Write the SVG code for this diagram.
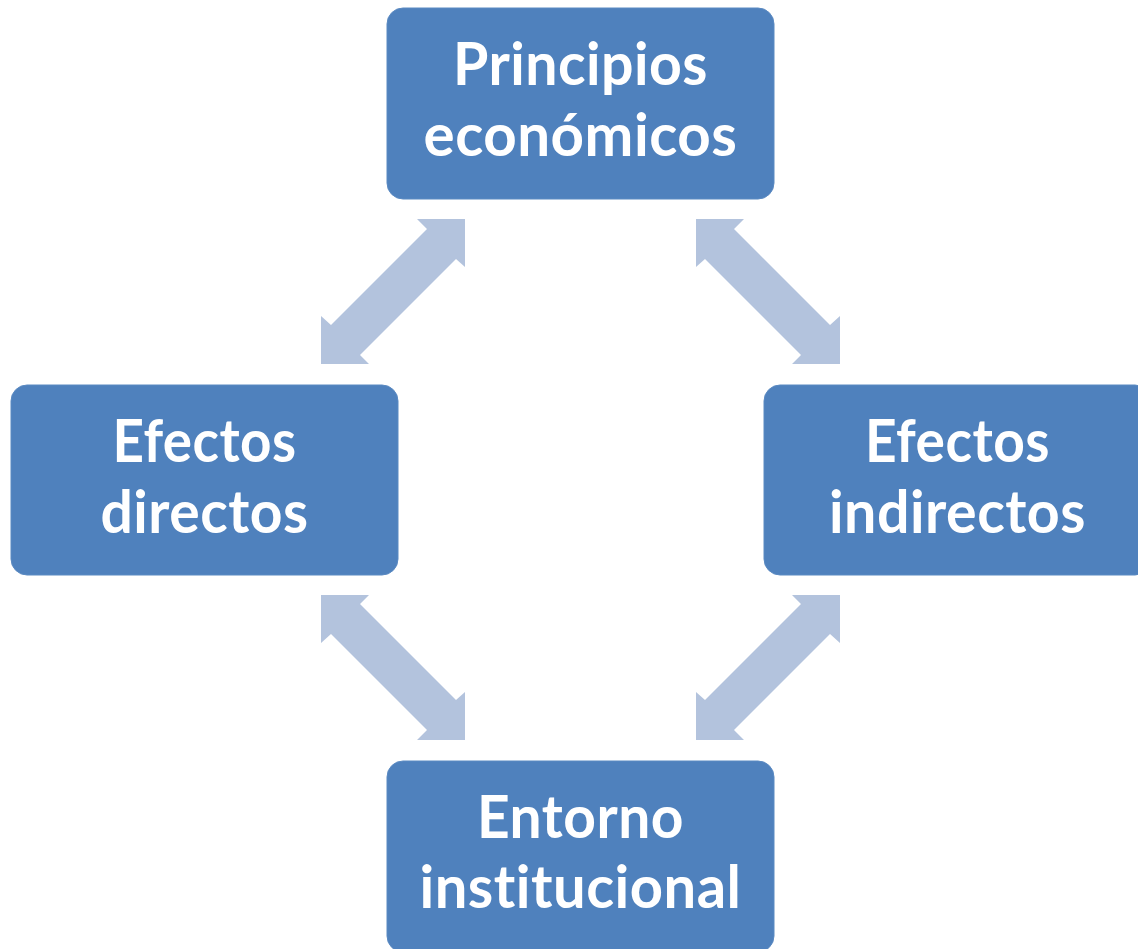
<svg xmlns="http://www.w3.org/2000/svg" width="1138" height="949" viewBox="0 0 1138 949">
<style>
.box{fill:#4F81BD;stroke:#5B8AC2;stroke-width:1}
.lbl{font-family:Lato,"Open Sans","Liberation Sans",sans-serif;font-weight:700;font-size:59px;fill:#FFFFFF;text-anchor:middle;font-variant-ligatures:none;font-feature-settings:"liga" 0,"clig" 0;letter-spacing:0.5px}
.arr{fill:#B3C3DD}
</style>
<rect width="1138" height="949" fill="#FFFFFF"/>
<g id="connectors">
<polygon class="arr" points="465,219 417,219 427,229 331,325 321,316 321,364 369,364 360,355 456,259 465,267"/>
<polygon class="arr" points="696,219 744,219 734,229 830,325 840,316 840,364 792,364 801,355 705,259 696,267"/>
<polygon class="arr" points="465,740 417,740 427,730 331,634 321,643 321,595 369,595 360,604 456,700 465,692"/>
<polygon class="arr" points="696,740 744,740 734,730 830,634 840,643 840,595 792,595 801,604 705,700 696,692"/>
</g>
<g id="principios">
<rect class="box" x="387" y="8" width="387" height="191" rx="16"/>
<text class="lbl" x="580.5" y="85" textLength="255" lengthAdjust="spacingAndGlyphs">Principios</text>
<text class="lbl" x="580.5" y="156" textLength="314" lengthAdjust="spacingAndGlyphs">económicos</text>
</g>
<g id="directos">
<rect class="box" x="11" y="385" width="387" height="190" rx="16"/>
<text class="lbl" x="204.5" y="462" textLength="184" lengthAdjust="spacingAndGlyphs">Efectos</text>
<text class="lbl" x="204.5" y="533" textLength="208" lengthAdjust="spacingAndGlyphs">directos</text>
</g>
<g id="indirectos">
<rect class="box" x="764" y="385" width="387" height="190" rx="16"/>
<text class="lbl" x="957.5" y="462" textLength="185" lengthAdjust="spacingAndGlyphs">Efectos</text>
<text class="lbl" x="957.5" y="533" textLength="257" lengthAdjust="spacingAndGlyphs">indirectos</text>
</g>
<g id="entorno">
<rect class="box" x="387" y="761" width="387" height="191" rx="16"/>
<text class="lbl" x="580.5" y="838" textLength="207" lengthAdjust="spacingAndGlyphs">Entorno</text>
<text class="lbl" x="580.5" y="908" textLength="322" lengthAdjust="spacingAndGlyphs">institucional</text>
</g>
</svg>
